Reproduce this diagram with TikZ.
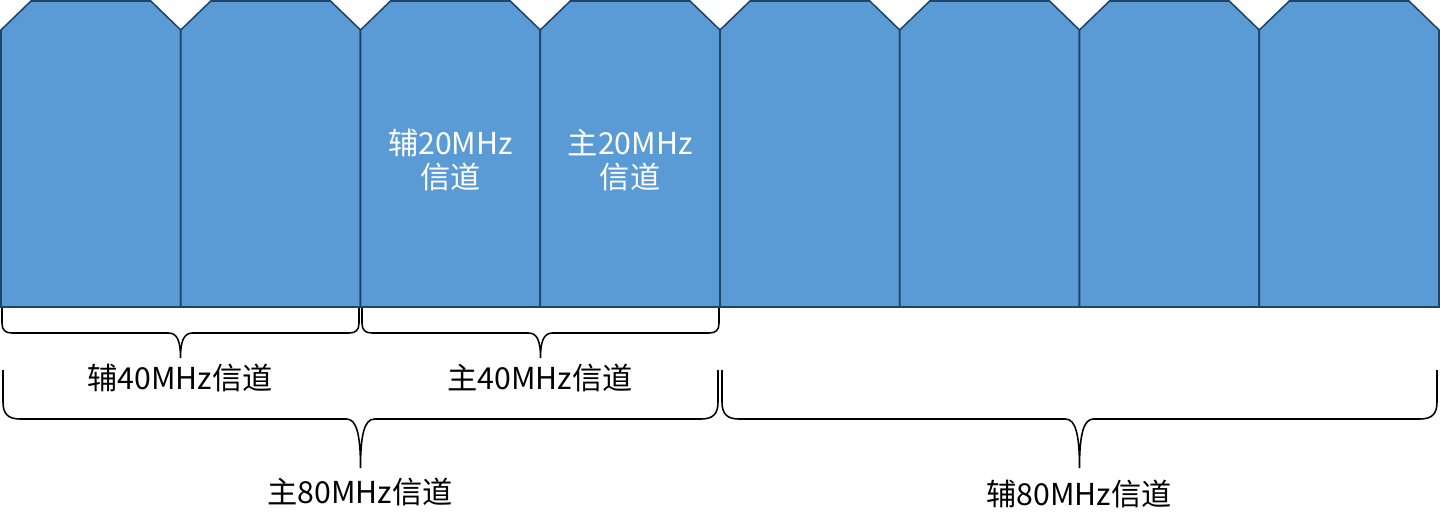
\documentclass[tikz,border=0pt]{standalone}
\usepackage{fontspec}
\newfontfamily\cjk{Noto Sans CJK SC}
\definecolor{chanfill}{HTML}{5B9BD5}
\definecolor{chanline}{HTML}{1F4468}

% brace from x=#1 to x=#2, top at y=#3, half depth #4, end curl #5, tip width #6
\newcommand{\chanbrace}[6]{%
  \pgfmathsetmacro\bm{(#1+#2)/2}%
  \pgfmathsetmacro\by{#3+#4}%
  \pgfmathsetmacro\bt{#3+2*#4}%
  \draw [bracestyle]
     (#1,#3) -- (#1,\by-#5)
     .. controls (#1,\by-0.3*#5) and (#1+0.3*#5,\by) .. (#1+#5,\by)
     -- (\bm-#6,\by)
     .. controls (\bm-0.3*#6,\by) and (\bm,\by+0.3*#4) .. (\bm,\bt)
     .. controls (\bm,\by+0.3*#4) and (\bm+0.3*#6,\by) .. (\bm+#6,\by)
     -- (#2-#5,\by)
     .. controls (#2-0.3*#5,\by) and (#2,\by-0.3*#5) .. (#2,\by-#5)
     -- (#2,#3);}

\begin{document}
\begin{tikzpicture}[x=0.025cm,y=-0.025cm,
      chan/.style={fill=chanfill,draw=chanline,line width=1.1pt,line join=miter},
      bracestyle/.style={black,line width=1.1pt},
      lbl/.style={font=\cjk\fontsize{21.5}{24}\selectfont,inner sep=0pt},
      inlbl/.style={lbl,white,align=center}]
            \useasboundingbox (0,0) rectangle (1440,528);

            \foreach \i in {0,...,7} {
               \draw [chan] 
                  (1+179.75*\i,307) -- (1+179.75*\i,30) -- (31+179.75*\i,1)
                  -- (150.75+179.75*\i,1) -- (180.75+179.75*\i,30)
                  -- (180.75+179.75*\i,307) -- cycle;
               \coordinate (ch\i) at (90.875+179.75*\i,160);
            }

            \node [inlbl] (sec20) at (ch2) {辅20MHz\\信道};
            \node [inlbl] (pri20) at (ch3) {主20MHz\\信道};

            \chanbrace{2}{359}{308}{25}{10}{12}
            \chanbrace{362}{719}{308}{25}{10}{12}
            \chanbrace{3}{718}{370}{49}{17}{14}
            \chanbrace{722}{1437}{370}{49}{17}{14}

            \node [lbl] (sec40) at (180,378) {辅40MHz信道};
            \node [lbl] (pri40) at (540,378) {主40MHz信道};
            \node [lbl] (pri80) at (360,492) {主80MHz信道};
            \node [lbl] (sec80) at (1079,494) {辅80MHz信道};
         \end{tikzpicture}
\end{document}
